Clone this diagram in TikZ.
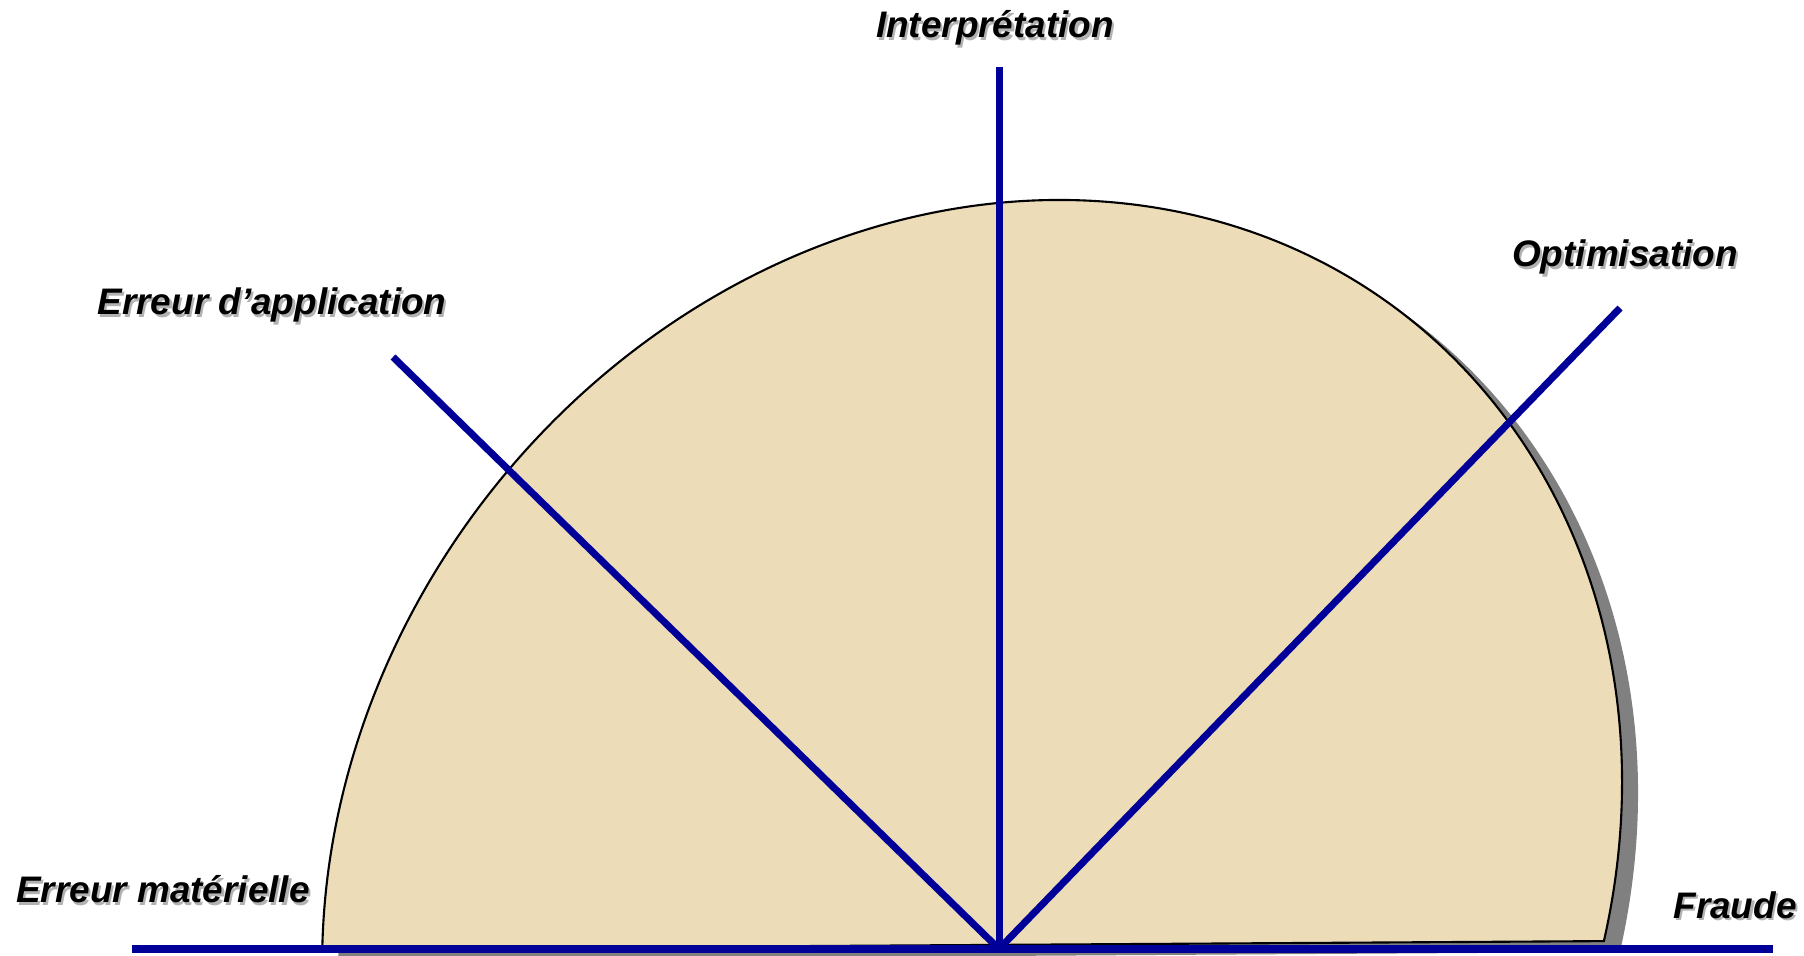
\documentclass[tikz,border=0pt]{standalone}
\usepackage{fontspec}
\setmainfont{Liberation Sans}
\definecolor{lineblue}{RGB}{0,0,153}
\definecolor{parchment}{RGB}{237,220,184}
\definecolor{shadowgray}{RGB}{128,128,128}
\usetikzlibrary{positioning}
\newcommand{\shadowtext}[1]{\makebox[0pt][l]{\hspace{0.6pt}\raisebox{-0.6pt}{\color{gray!60}#1}}#1}

\begin{document}
\begin{tikzpicture}[x=0.01cm, y=0.01cm,
    ray/.style={lineblue, line width=2pt},
    lbl/.style={anchor=base, inner sep=0pt, font=\fontsize{10.5}{12}\selectfont\bfseries\itshape}]
      \useasboundingbox (0,0) rectangle (1804,955);
      % Shadow of the half disc (drawn first)
      \begin{scope}[shift={(988,71)}, rotate=52.3]
        \fill[shadowgray] (-61.9:706 and 614) arc[start angle=-61.9, end angle=130.4, x radius=706, y radius=614] -- cycle;
      \end{scope}
      % Half disc
      \begin{scope}[shift={(972,82)}, rotate=52.3]
        \filldraw[fill=parchment, draw=black, line width=0.6pt]
          (-61.9:706 and 614) arc[start angle=-61.9, end angle=130.4, x radius=706, y radius=614] -- cycle;
      \end{scope}
      % Ray ends
      \coordinate (o) at (999,6);
      \coordinate (left) at (132,6);
      \coordinate (right) at (1773,6);
      \coordinate (up) at (999,888);
      \coordinate (upleft) at (393,598);
      \coordinate (upright) at (1620,647);
      % Rays
      \draw[ray] (left) -- (right);
      \draw[ray] (o) -- (up);
      \draw[ray] (o) -- (upleft);
      \draw[ray] (o) -- (upright);
      % Labels
      \node[lbl] (interp) at (995,917) {\shadowtext{Interprétation}};
      \node[lbl] (applic) at (272,640) {\shadowtext{Erreur d’application}};
      \node[lbl] (optim) at (1625,688) {\shadowtext{Optimisation}};
      \node[lbl] (mater) at (163,52) {\shadowtext{Erreur matérielle}};
      \node[lbl] (fraude) at (1735,37) {\shadowtext{Fraude}};
    \end{tikzpicture}
\end{document}
